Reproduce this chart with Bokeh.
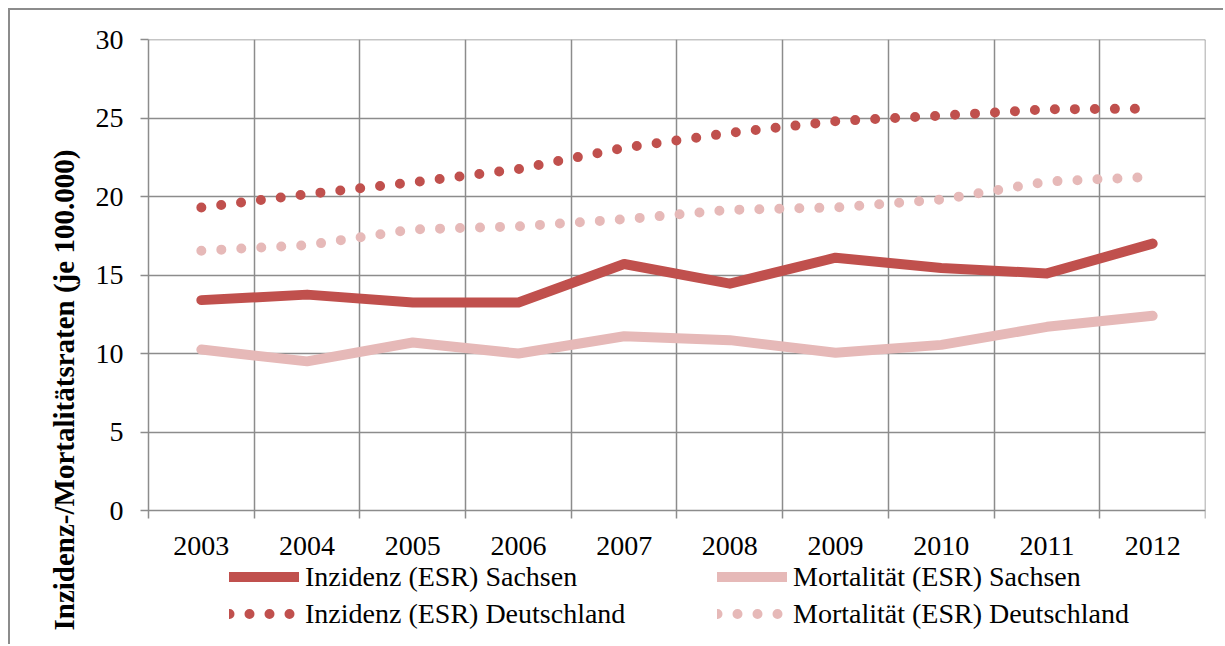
import math
from bokeh.plotting import figure
from bokeh.models import FixedTicker, Legend, LegendItem, Title, Range1d
from bokeh.embed import file_html
from bokeh.resources import INLINE

years = ["2003", "2004", "2005", "2006", "2007", "2008", "2009", "2010", "2011", "2012"]
inz_sachsen = [13.4, 13.75, 13.25, 13.25, 15.7, 14.45, 16.1, 15.45, 15.1, 17.0]
mort_sachsen = [10.25, 9.5, 10.7, 10.0, 11.1, 10.85, 10.05, 10.55, 11.7, 12.4]
inz_de = [19.3, 20.15, 20.9, 21.75, 23.1, 24.05, 24.8, 25.15, 25.55, 25.6]
mort_de = [16.55, 16.9, 17.9, 18.1, 18.55, 19.15, 19.3, 19.8, 20.95, 21.25]
y_ticks = [0, 5, 10, 15, 20, 25, 30]

FONT = "Liberation Serif"
DARK = "#C0504D"
LIGHT = "#E6B9B8"
GRID = "#8C8C8C"

# layout (pixels)
PLOT_H = 471          # height of the 0..30 value area
FRAME_H = 605         # frame continues below for labels + legend
FRAME_W = 1057
PX = PLOT_H / 30.0    # pixels per unit
EPS = 1e-6

x = list(range(len(years)))
boundaries = [i - 0.5 for i in range(len(years) + 1)]

p = figure(frame_width=FRAME_W, frame_height=FRAME_H, output_backend="svg", toolbar_location=None,
           x_range=Range1d(-0.5, len(years) - 0.5 + EPS),
           y_range=Range1d(-(FRAME_H - PLOT_H) / PX, 30 + EPS),
           x_axis_location=None,
           min_border_left=138, min_border_right=18, min_border_top=29, min_border_bottom=0)
p.styles = {"border-left": "2px solid #8C8C8C", "border-top": "2px solid #8C8C8C",
            "margin-left": "8px", "margin-top": "8px"}
p.outline_line_color = None
p.background_fill_color = "white"
p.border_fill_color = "white"

# vertical grid lines at category boundaries, reaching 8px below 0 as ticks
p.xgrid.ticker = FixedTicker(ticks=boundaries)
p.xgrid.cross_bounds = (-8 / PX, 30)
p.ygrid.ticker = FixedTicker(ticks=y_ticks)
for g in (p.xgrid, p.ygrid):
    g.grid_line_color = GRID
    g.grid_line_width = 1.5

# y axis
p.yaxis.ticker = FixedTicker(ticks=y_ticks)
p.yaxis.bounds = (-8 / PX, 30)
p.yaxis.major_tick_out = 8
p.yaxis.major_tick_in = 0
p.yaxis.minor_tick_line_color = None
p.yaxis.major_tick_line_color = GRID
p.yaxis.major_tick_line_width = 1.5
p.yaxis.major_label_standoff = 17
p.yaxis.axis_line_color = GRID
p.yaxis.axis_line_width = 1.5
p.yaxis.major_label_text_font = FONT
p.yaxis.major_label_text_font_size = "28px"
p.yaxis.major_label_text_color = "black"

# x category labels
p.text(x=x, y=[-35 / PX] * len(years), text=years, text_align="center", text_baseline="middle",
       text_font={"value": FONT}, text_font_size="28px", text_color="black")

r1 = p.line(x, inz_sachsen, line_color=DARK, line_width=10, line_cap="round", line_join="round")
r2 = p.line(x, mort_sachsen, line_color=LIGHT, line_width=10, line_cap="round", line_join="round")
r3 = p.line(x, inz_de, line_color=DARK, line_width=10, line_cap="round", line_dash="0 20")
r4 = p.line(x, mort_de, line_color=LIGHT, line_width=10, line_cap="round", line_dash="0 20")

legend = Legend(items=[
    LegendItem(label="Inzidenz (ESR) Sachsen", renderers=[r1]),
    LegendItem(label="Inzidenz (ESR) Deutschland", renderers=[r3]),
    LegendItem(label="Mortalität (ESR) Sachsen", renderers=[r2]),
    LegendItem(label="Mortalität (ESR) Deutschland", renderers=[r4]),
], ncols=2, location=(81, 12),
    border_line_color=None, background_fill_alpha=0, padding=0, margin=0,
    label_text_font=FONT, label_text_font_size="28px", label_text_color="black",
    glyph_width=70, glyph_height=37, label_standoff=6, label_width=412, label_height=37,
    spacing=0)
p.add_layout(legend, "center")

ylab = Title(text="Inzidenz-/Mortalitätsraten  (je 100.000)", align="left", offset=14,
             text_font=FONT, text_font_size="29px", text_font_style="bold",
             text_color="black", standoff=26)
p.add_layout(ylab, "left")

open("out.html", "w").write(file_html(p, INLINE))
